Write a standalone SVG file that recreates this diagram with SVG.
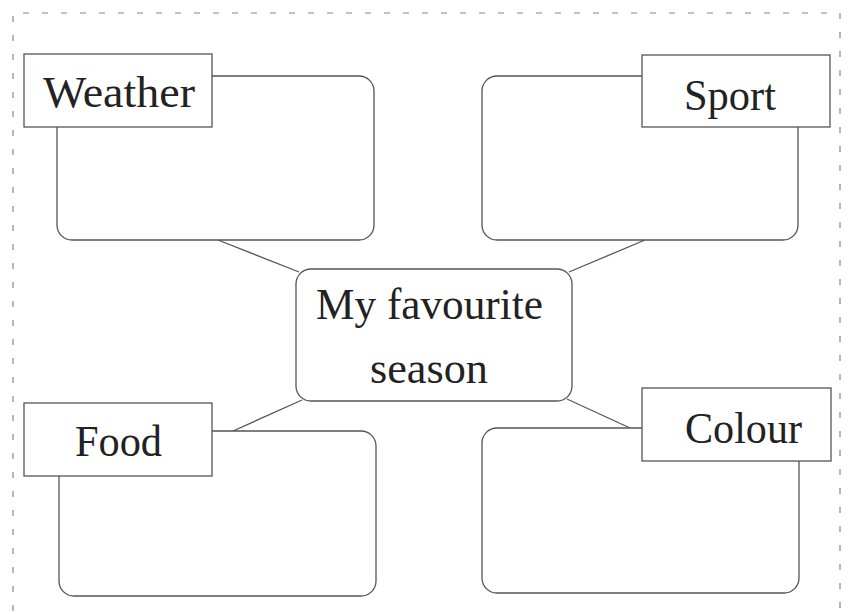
<svg xmlns="http://www.w3.org/2000/svg" width="862" height="614" viewBox="0 0 862 614">
<style>
.border{fill:none;stroke:#888;stroke-width:1.2;stroke-dasharray:6 13}
.box{fill:#fff;stroke:#555;stroke-width:1.3}
.lbl{fill:#fff;stroke:#555;stroke-width:1.3}
.conn line{stroke:#555;stroke-width:1.3}
text{font-family:"Liberation Serif","Times New Roman",serif;font-size:45px;fill:#222}
</style>
<rect width="862" height="614" fill="#fff"/>
<path class="border" d="M13,630 L13,13 L840,13 L840,630"/>
<g id="connectors" class="conn">
<line x1="218" y1="240" x2="299" y2="272"/>
<line x1="645" y1="240" x2="569" y2="272"/>
<line x1="302" y1="400" x2="233" y2="431"/>
<line x1="567" y1="399" x2="630" y2="428"/>
</g>
<g id="center">
<rect class="box" x="296" y="269" width="276" height="132" rx="15"/>
<text x="316" y="319" textLength="227" lengthAdjust="spacingAndGlyphs">My favourite</text>
<text x="370" y="383" textLength="118" lengthAdjust="spacingAndGlyphs">season</text>
</g>
<g id="weather">
<rect class="box" x="57" y="76" width="317" height="164" rx="15"/>
<rect class="lbl" x="24" y="54" width="188" height="73"/>
<text x="43" y="107" textLength="152" lengthAdjust="spacingAndGlyphs">Weather</text>
</g>
<g id="sport">
<rect class="box" x="482" y="76" width="316" height="164" rx="15"/>
<rect class="lbl" x="642" y="55" width="188" height="72"/>
<text x="684" y="110" textLength="92" lengthAdjust="spacingAndGlyphs">Sport</text>
</g>
<g id="food">
<rect class="box" x="59" y="431" width="317" height="165" rx="15"/>
<rect class="lbl" x="24" y="403" width="188" height="73"/>
<text x="75" y="456" textLength="87" lengthAdjust="spacingAndGlyphs">Food</text>
</g>
<g id="colour">
<rect class="box" x="482" y="428" width="317" height="165" rx="15"/>
<rect class="lbl" x="642" y="388" width="189" height="73"/>
<text x="685" y="443" textLength="117" lengthAdjust="spacingAndGlyphs">Colour</text>
</g>
</svg>
